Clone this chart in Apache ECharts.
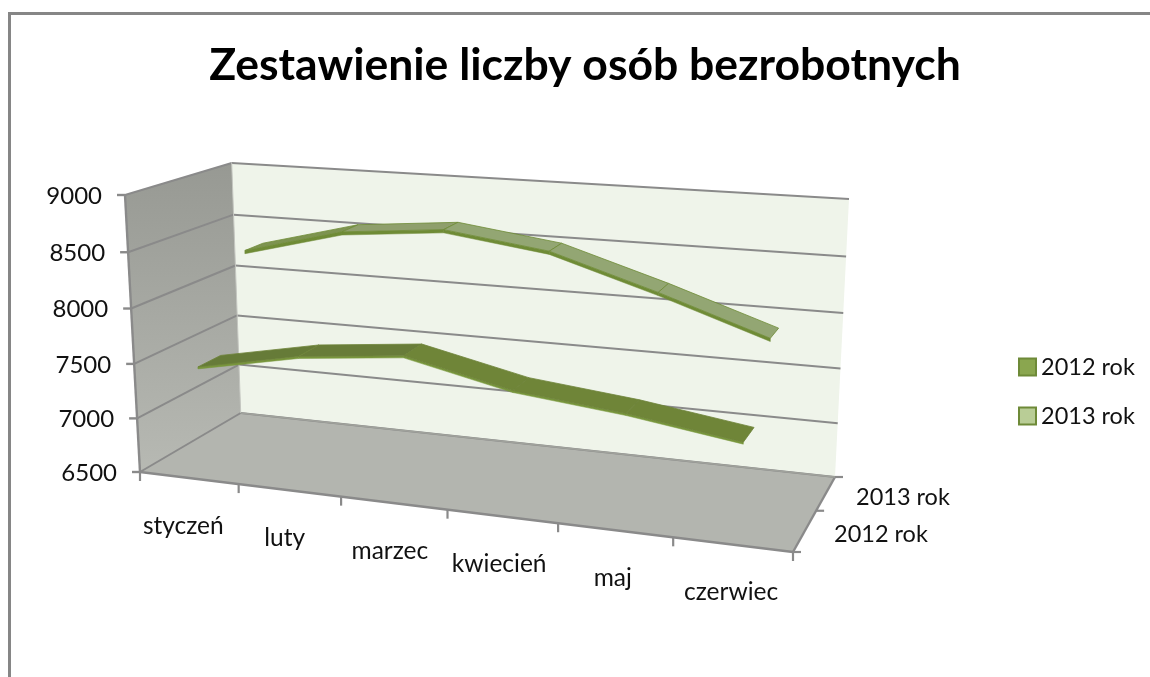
<!DOCTYPE html>
<html><head><meta charset="utf-8">
<style>html,body{margin:0;padding:0;background:#fff}#c{width:1150px;height:677px}</style>
<script src="https://cdn.jsdelivr.net/npm/echarts@6/dist/echarts.min.js"></script>
</head><body><div id="c"></div>
<script>
const categories = ['styczeń','luty','marzec','kwiecień','maj','czerwiec'];
const values2012 = [7455,7640,7735,7525,7425,7285];
const values2013 = [8320,8560,8645,8520,8230,7910];
const seriesNames = ['2012 rok','2013 rok'];
const valueTicks = [6500,7000,7500,8000,8500,9000];

// box corners on the page: front/back, bottom/top, left/right
const box = {
  fbl:[140,472], fbr:[793,552], ftl:[125,195], ftr:[810,243],
  bbl:[240.7,413], bbr:[835,477], btl:[231.7,163], btr:[849,199]
};
const perspU = 0.89, perspV = 0.96;
const plot = {left:100,top:100,width:600,height:400};
const depth2012 = [0.14,0.37], depth2013 = [0.65,0.83];
const font = 'Lato';

const lerp=(a,b,t)=>[a[0]+(b[0]-a[0])*t,a[1]+(b[1]-a[1])*t];
const warp=(x,s)=>x*s/(1+x*(s-1));
function P(u,v,w){
  const t=warp(u,perspU), h=warp(v,perspV);
  const f=lerp(lerp(box.fbl,box.fbr,t),lerp(box.ftl,box.ftr,t),h);
  const b=lerp(lerp(box.bbl,box.bbr,t),lerp(box.btl,box.btr,t),h);
  return lerp(f,b,w);
}
// pixel position from the chart's own axes -> normalised -> projected
function norm(api,cat,val){
  const c=api.coord([cat,val]);
  return [(c[0]-plot.left)/plot.width,(plot.top+plot.height-c[1])/plot.height];
}
function project(api,cat,val,w){
  const n=norm(api,cat,val);
  return P(n[0],n[1],w);
}
const poly=(pts,fill,stroke,lw)=>({type:'polygon',shape:{points:pts},style:{fill,stroke:stroke||null,lineWidth:lw||0},silent:true});
const line=(a,b,stroke,lw)=>({type:'line',shape:{x1:a[0],y1:a[1],x2:b[0],y2:b[1]},style:{stroke,lineWidth:lw},silent:true});
const txt=(s,x,y,align,size)=>({type:'text',x,y,style:{text:s,fill:'#111',font:size+'px '+font,textAlign:align,textVerticalAlign:'middle'},silent:true});

function renderWalls(params,api){
  const c=[];
  c.push(poly([P(0,0,1),P(1,0,1),P(1,1,1),P(0,1,1)],'#eff4ea'));
  c.push(poly([P(0,0,0),P(0,0,1),P(0,1,1),P(0,1,0)],new echarts.graphic.LinearGradient(0,0,0,1,[{offset:0,color:'#979993'},{offset:1,color:'#b7b9b3'}])));
  c.push(poly([P(0,0,0),P(1,0,0),P(1,0,1),P(0,0,1)],'#b3b5af'));
  return {type:'group',children:c};
}
function renderGrid(params,api){
  const val=api.value(1), L='#8a8a8a';
  const v=norm(api,0,val)[1];
  const q=P(0,v,0), r=P(0,v,1), s=P(1,v,1);
  const c=[line(q,r,L,2),line(r,s,L,2),line([q[0]-8,q[1]],q,L,2.4)];
  c.push(txt(String(val),q[0]-23,q[1]+1,'right',24));
  return {type:'group',children:c};
}
function renderEdges(params,api){
  const L='#8a8a8a';
  const c=[line(P(0,0,0),P(0,1,0),L,2.4),line(P(0,1,1),P(0,0,1),'#c4c6c0',1),line(P(0,0,0),P(1,0,0),L,2.4),
           line(P(1,0,0),P(1,0,1),L,2.4),line(P(0,0,1),P(1,0,1),'#a0a29c',1.6)];
  for(let i=0;i<=categories.length;i++){
    const p=P(i/categories.length,0,0);
    c.push(line(p,[p[0],p[1]+9],L,2.2));
  }
  [0,0.55,1].forEach(w=>{const p=P(1,0,w);c.push(line(p,[p[0]+8,p[1]],L,2.2));});
  return {type:'group',children:c};
}
function renderCatLabels(params,api){
  const i=api.value(0);
  const n=norm(api,i,6500);
  const p=P(n[0],0,0);
  return txt(categories[i],p[0]-6+5*n[0],p[1]+48,'center',24.5);
}
function ribbon(values,depth,colors,thick){
  return function(params,api){
    const i=params.dataIndex;
    if(i>=values.length-1) return {type:'group',children:[]};
    const a=project(api,i,values[i],depth[0]), b=project(api,i+1,values[i+1],depth[0]);
    const c=project(api,i+1,values[i+1],depth[1]), d=project(api,i,values[i],depth[1]);
    const a2=[a[0],a[1]+thick], b2=[b[0],b[1]+thick];
    const slope=values[i+1]-values[i];
    const top=slope>150?colors.rise:(slope<-50?colors.fall:colors.flat);
    return {type:'group',children:[
      poly([a,b,b2,a2],colors.side,colors.side,0.5),
      poly([a,b,c,d],top,colors.seam,0.8)
    ]};
  };
}
const seriesCommon={type:'custom',coordinateSystem:'cartesian2d',clip:false,silent:true,animation:false};
const colors2012={rise:'#667b38',flat:'#687c39',fall:'#6f8538',side:'#78963c',seam:'#6d8338'};
const colors2013={rise:'#7d9350',flat:'#8f9f6c',fall:'#93a673',side:'#6f8b36',seam:'#6f8b36'};

const chart=echarts.init(document.getElementById('c'),null,{renderer:'canvas'});
chart.setOption({
  animation:false,
  backgroundColor:'#fff',
  title:{text:'Zestawienie liczby osób bezrobotnych',left:580,top:38,textAlign:'center',
    textStyle:{fontFamily:font,fontWeight:'bold',fontSize:44.5,color:'#000'}},
  graphic:[
    {type:'rect',shape:{x:9.5,y:13.5,width:1200,height:700},style:{fill:null,stroke:'#868686',lineWidth:3},silent:true},
    {type:'text',left:856,top:485,style:{text:seriesNames[1],fill:'#111',font:'23.5px '+font},silent:true},
    {type:'text',left:834,top:522,style:{text:seriesNames[0],fill:'#111',font:'23.5px '+font},silent:true}
  ],
  legend:{orient:'vertical',left:1013,top:350,itemWidth:17,itemHeight:17,itemGap:25,icon:'rect',data:seriesNames,selectedMode:false,
    textStyle:{fontFamily:font,fontSize:23.5,color:'#111'},itemStyle:{borderWidth:2}},
  grid:{left:plot.left,top:plot.top,width:plot.width,height:plot.height,show:false},
  xAxis:{type:'category',data:categories,show:false},
  yAxis:{type:'value',min:6500,max:9000,interval:500,show:false},
  series:[
    {...seriesCommon,name:'walls',data:[[0,6500]],renderItem:renderWalls,z:1},
    {...seriesCommon,name:'grid',data:valueTicks.map(v=>[0,v]),renderItem:renderGrid,z:2},
    {...seriesCommon,name:'edges',data:[[0,6500]],renderItem:renderEdges,z:3},
    {...seriesCommon,name:'catLabels',data:categories.map((c,i)=>[i,6500]),renderItem:renderCatLabels,z:3},
    {...seriesCommon,name:seriesNames[1],data:values2013.map((v,i)=>[i,v]),renderItem:ribbon(values2013,depth2013,colors2013,3.2),z:4,
      itemStyle:{color:'#b9cd96',borderColor:'#6e8a38',borderWidth:2}},
    {...seriesCommon,name:seriesNames[0],data:values2012.map((v,i)=>[i,v]),renderItem:ribbon(values2012,depth2012,colors2012,2),z:5,
      itemStyle:{color:'#8aa64f',borderColor:'#6e8a38',borderWidth:2}}
  ]
});
</script></body></html>
